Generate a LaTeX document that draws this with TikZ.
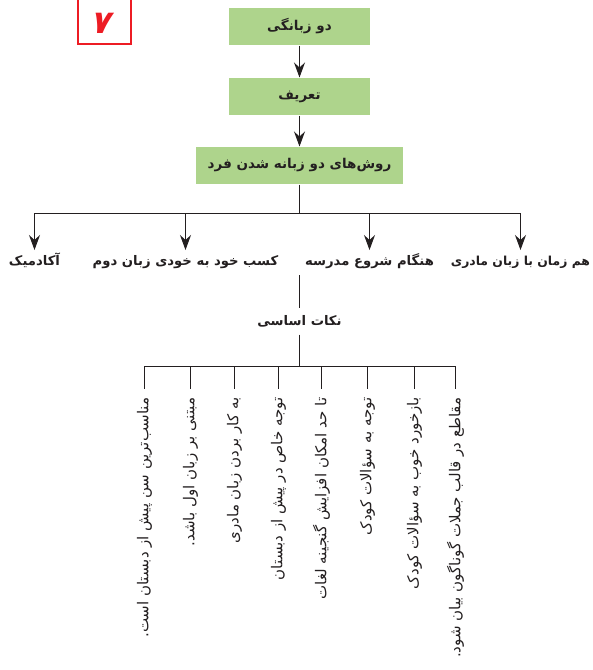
\documentclass[tikz,border=0pt]{standalone}
\usepackage{fontspec}
\newfontfamily\fa[Script=Arabic]{DejaVu Sans}
\TeXXeTstate=1
\usetikzlibrary{arrows.meta}
\definecolor{boxgreen}{RGB}{174,212,140}
\definecolor{badgered}{RGB}{237,28,36}
\definecolor{ink}{RGB}{35,31,32}

\begin{document}
\begin{tikzpicture}[x=1pt, y=-1pt, ink, line width=1pt,
    greenbox/.style={fill=boxgreen, minimum height=37pt, text=ink,
        font=\fa\bfseries\fontsize{13.5}{15}\selectfont},
    branch/.style={anchor=north, inner sep=1pt, text height=14pt, text depth=4pt,
        font=\fa\bfseries\fontsize{13.2}{15}\selectfont},
    point/.style={rotate=90, anchor=east, inner xsep=8pt, inner ysep=0pt,
        font=\fa\fontsize{15}{17}\selectfont},
    arrow/.style={-{Stealth[length=15pt,width=11pt,inset=5pt]}}]
\useasboundingbox (0,0) rectangle (593,670);

% badge
\draw [badgered, line width=2.6pt] (78,-5) rectangle (131,44);
\node [badgered, xslant=0.25, font=\fa\bfseries\fontsize{32}{32}\selectfont] (badge) at (103,23) {۷};

% main chain
\node [greenbox, minimum width=141pt] (bil) at (299.5,26.5) {\beginR دو زبانگی\endR};
\node [greenbox, minimum width=141pt] (def) at (299.5,96.5) {\beginR تعریف\endR};
\node [greenbox, minimum width=207pt] (ways) at (299.5,165.5) {\beginR روش‌های دو زبانه شدن فرد\endR};
\draw [arrow] (bil) -- (def);
\draw [arrow] (def) -- (ways);

% ways
\coordinate (split) at (299.5,213.5);
\node [branch] (academic) at (34.5,250) {\beginR آکادمیک\endR};
\node [branch] (selfacq) at (185.5,250) {\beginR کسب خود به خودی زبان دوم\endR};
\node [branch] (school) at (369.5,250) {\beginR هنگام شروع مدرسه\endR};
\node [branch, font=\fa\bfseries\fontsize{12.4}{15}\selectfont] (mother) at (520.5,250) {\beginR هم زمان با زبان مادری\endR};
\draw (ways) -- (split);
\foreach \n in {academic,selfacq,school,mother}
    \draw [arrow] (split) -| (\n.north);

% basic points
\coordinate (schoolfoot) at (299.5,275);
\node [minimum height=26pt, inner sep=0pt, font=\fa\bfseries\fontsize{13.2}{15}\selectfont] (notes) at (299.5,321) {\beginR نکات اساسی\endR};
\coordinate (hub) at (299.5,366.5);
\draw (schoolfoot) -- (notes);
\draw (notes) -- (hub);

\foreach \x/\t [count=\i] in {144.5/مناسب‌ترین سن پیش از دبستان است.,
        190.5/مبتنی بر زبان اول باشد.,
        234.5/به کار بردن زبان مادری,
        278.5/توجه خاص در پیش از دبستان,
        321.5/تا حد امکان افزایش گنجینه لغات,
        367.5/توجه به سؤالات کودک,
        414.5/بازخورد خوب به سؤالات کودک,
        455.5/مقاطع در قالب جملات گوناگون بیان شود.}
    \node [point] (item\i) at (\x,389) {\beginR\t\endR};
\foreach \i in {1,...,8}
    \draw (hub) -| (item\i.east);
\end{tikzpicture}
\end{document}
